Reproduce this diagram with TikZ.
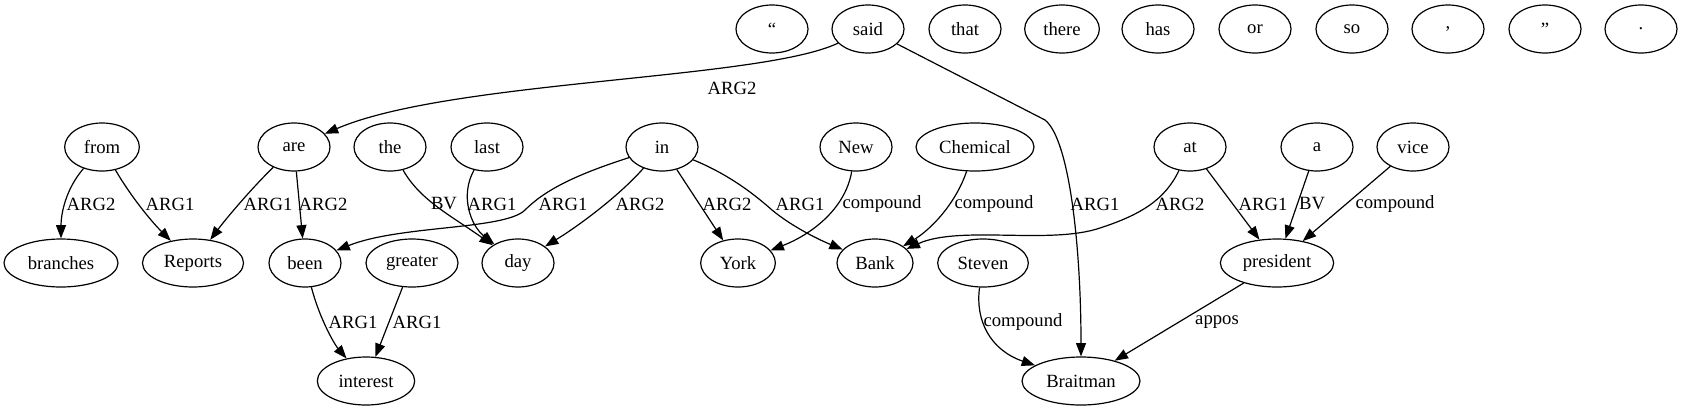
\documentclass[tikz,border=0pt]{standalone}
\usepackage{fontspec}
\setmainfont{Liberation Serif}
\usetikzlibrary{arrows.meta,shapes.geometric}
\begin{document}
\begin{tikzpicture}[x=0.75pt,y=-0.75pt,
  word/.style={draw,ellipse,line width=0.9pt,minimum width=54pt,minimum height=36pt,inner sep=0pt,font=\fontsize{14pt}{16pt}\selectfont},
  lab/.style={inner sep=0pt,font=\fontsize{14pt}{16pt}\selectfont},
  edge/.style={line width=0.9pt,-{Triangle[length=10pt,width=7.5pt]}}]
\useasboundingbox (0,0) rectangle (1683,411);
% row 1
\node[word] (q1) at (772,29) {“};
\node[word] (said) at (868,29) {said};
\node[word] (that) at (965,29) {that};
\node[word,minimum width=56pt] (there) at (1062,29) {there};
\node[word] (has) at (1158,29) {has};
\node[word] (or) at (1255,29) {or};
\node[word] (so) at (1352,29) {so};
\node[word] (comma) at (1448,29) {,};
\node[word] (q2) at (1545,29) {”};
\node[word] (dot) at (1641,29) {.};
% row 2
\node[word,minimum width=56pt] (from) at (102,147) {from};
\node[word] (are) at (294,147) {are};
\node[word] (the) at (390,147) {the};
\node[word] (last) at (487,147) {last};
\node[word] (in) at (662,147) {in};
\node[word] (New) at (856,147) {New};
\node[word,minimum width=88.5pt] (Chemical) at (975,147) {Chemical};
\node[word] (at) at (1190,147) {at};
\node[word] (a) at (1317,147) {a};
\node[word] (vice) at (1413,147) {vice};
% row 3
\node[word,minimum width=85.5pt] (branches) at (61,263) {branches};
\node[word,minimum width=75.75pt] (Reports) at (193,263) {Reports};
\node[word] (been) at (305,263) {been};
\node[word,minimum width=69pt] (greater) at (412,263) {greater};
\node[word] (day) at (518,263) {day};
\node[word,minimum width=56pt] (York) at (738,263) {York};
\node[word,minimum width=57pt] (Bank) at (875,263) {Bank};
\node[word,minimum width=68pt] (Steven) at (983,263) {Steven};
\node[word,minimum width=85pt] (president) at (1277,263) {president};
% row 4
\node[word,minimum width=73pt] (interest) at (366,381) {interest};
\node[word,minimum width=88.5pt] (Braitman) at (1081,381) {Braitman};
% edges
\draw[edge] (said) .. controls (760,80) and (450,80) .. (are);
\draw[edge] (said) -- (1045,120) .. controls (1070,140) and (1081,250) .. (Braitman);
\draw[edge] (from) .. controls (65,190) and (61,215) .. (branches);
\draw[edge] (from) .. controls (130,195) and (150,220) .. (Reports);
\draw[edge] (are) .. controls (250,190) and (225,220) .. (Reports);
\draw[edge] (are) -- (been);
\draw[edge] (the) .. controls (420,200) and (450,215) .. (day);
\draw[edge] (last) .. controls (460,195) and (470,225) .. (day);
\draw[edge] (in) .. controls (575,175) and (545,190) .. (525,210) .. controls (505,230) and (400,225) .. (been);
\draw[edge] (in) .. controls (620,195) and (580,225) .. (day);
\draw[edge] (in) -- (York);
\draw[edge] (in) .. controls (730,175) and (755,195) .. (772,210) .. controls (790,225) and (815,238) .. (Bank);
\draw[edge] (New) .. controls (845,210) and (810,235) .. (York);
\draw[edge] (Chemical) .. controls (955,205) and (930,230) .. (Bank);
\draw[edge] (at) .. controls (1165,200) and (1140,215) .. (1100,228) .. controls (1050,245) and (960,225) .. (Bank);
\draw[edge] (at) -- (president);
\draw[edge] (a) -- (president);
\draw[edge] (vice) -- (president);
\draw[edge] (Steven) .. controls (975,320) and (990,350) .. (Braitman);
\draw[edge] (president) -- (Braitman);
\draw[edge] (been) .. controls (320,320) and (335,345) .. (interest);
\draw[edge] (greater) -- (interest);
% labels
\node[lab] (l1) at (732,88) {ARG2};
\node[lab] (l2) at (1095,204) {ARG1};
\node[lab] (l3) at (91,204) {ARG2};
\node[lab] (l4) at (170,204) {ARG1};
\node[lab] (l5) at (268,204) {ARG1};
\node[lab] (l6) at (323,204) {ARG2};
\node[lab] (l7) at (444,204) {BV};
\node[lab] (l8) at (492,204) {ARG1};
\node[lab] (l9) at (563,204) {ARG1};
\node[lab] (l10) at (640,204) {ARG2};
\node[lab] (l11) at (727,204) {ARG2};
\node[lab] (l12) at (800,204) {ARG1};
\node[lab] (l13) at (882,204) {compound};
\node[lab] (l14) at (994,204) {compound};
\node[lab] (l15) at (1180,204) {ARG2};
\node[lab] (l16) at (1263,204) {ARG1};
\node[lab] (l17) at (1312,204) {BV};
\node[lab] (l18) at (1395,204) {compound};
\node[lab] (l19) at (1023,322) {compound};
\node[lab] (l20) at (1217,322) {appos};
\node[lab] (l21) at (353,322) {ARG1};
\node[lab] (l22) at (417,322) {ARG1};
\end{tikzpicture}
\end{document}
